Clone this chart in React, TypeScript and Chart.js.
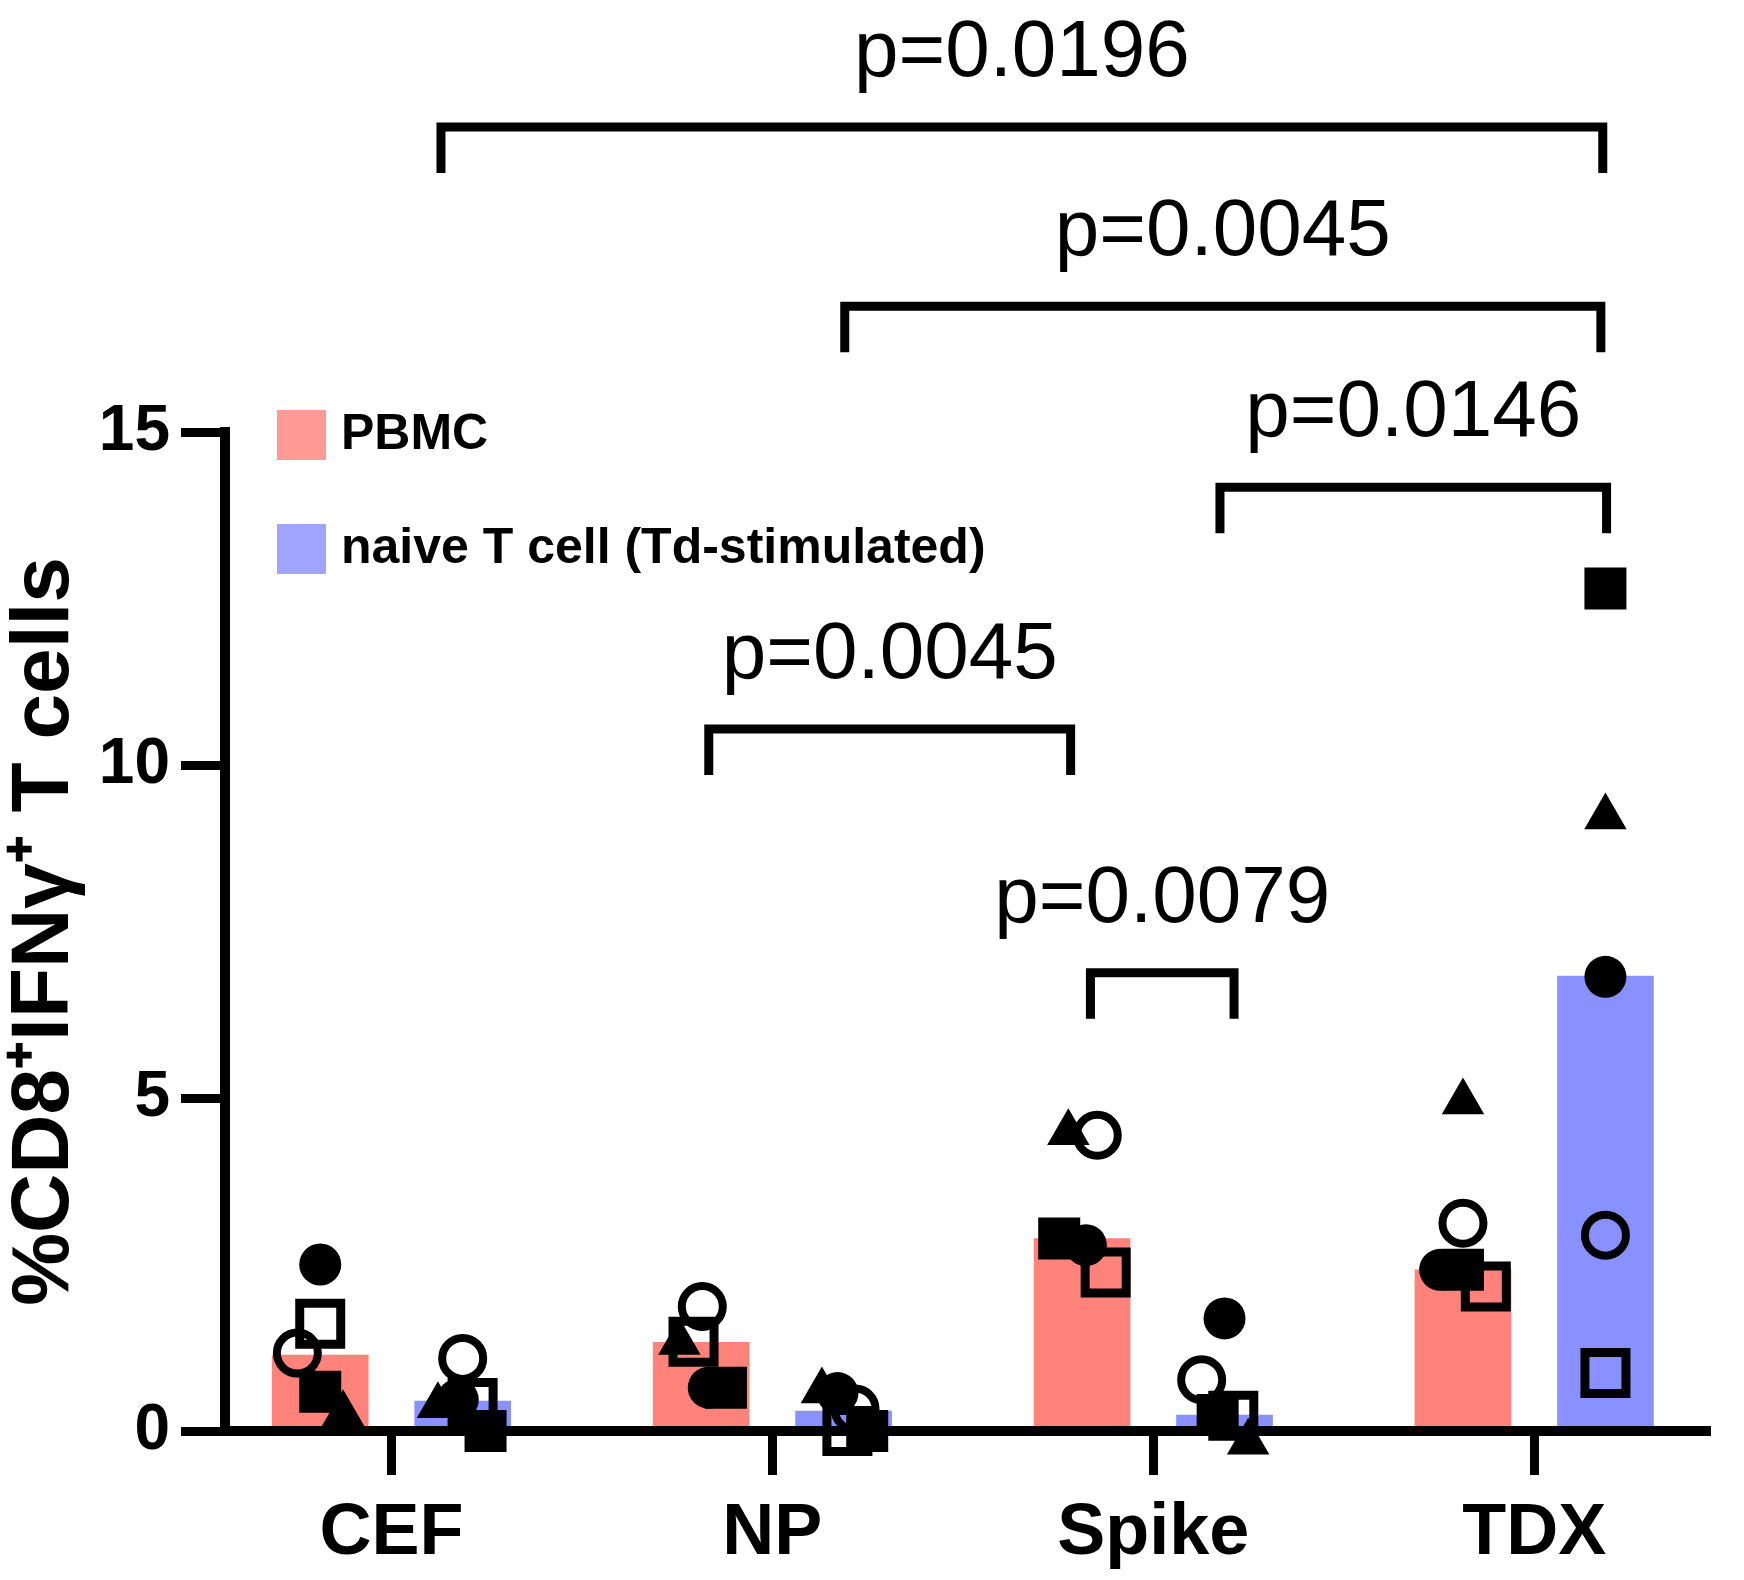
import { useEffect, useRef } from 'react';
import { Chart, registerables } from 'chart.js';

Chart.register(...registerables);

// categories and groups
const categories = ['CEF', 'NP', 'Spike', 'TDX'];
const groupNames = ['PBMC', 'naive T cell (Td-stimulated)'];

// bar heights (median per group)
const pbmcMedian = [1.14, 1.33, 2.89, 2.42];
const naiveMedian = [0.45, 0.3, 0.24, 6.83];

// individual donors, one array per group (CEF, NP, Spike, TDX)
const filledCirclePbmc = [2.5, 0.65, 2.79, 2.42];
const filledCircleNaive = [0.47, 0.57, 1.69, 6.82];
const openCirclePbmc = [1.17, 1.87, 4.44, 3.12];
const openCircleNaive = [1.09, 0.33, 0.77, 2.94];
const filledSquarePbmc = [0.59, 0.65, 2.89, 2.42];
const filledSquareNaive = [0.0, 0.0, 0.24, 12.65];
const openSquarePbmc = [1.61, 1.34, 2.38, 2.17];
const openSquareNaive = [0.42, 0.0, 0.23, 0.87];
const trianglePbmc = [0.26, 1.33, 4.48, 4.94];
const triangleNaive = [0.38, 0.6, -0.17, 9.22];

// horizontal scatter of the symbols, in category units
const filledCircleJitter = [[0, 0.02, 0.01, -0.06], [-0.013, -0.016, 0, 0]];
const openCircleJitter = [[-0.06, 0.003, 0.04, 0], [0, 0.03, -0.06, 0]];
const filledSquareJitter = [[0, 0.065, -0.06, 0], [0.06, 0.062, -0.018, 0]];
const openSquareJitter = [[0, -0.02, 0.062, 0.06], [0.026, 0.01, 0.023, 0]];
const triangleJitter = [[0.06, -0.057, -0.036, 0], [-0.065, -0.057, 0.062, 0]];

// significance brackets: ends on the x scale, level on the y scale
const brackets = [
  { label: 'p=0.0196', from: 0.13, to: 3.18, level: 19.58 },
  { label: 'p=0.0045', from: 1.19, to: 3.175, level: 16.89 },
  { label: 'p=0.0146', from: 2.175, to: 3.19, level: 14.17 },
  { label: 'p=0.0045', from: 0.833, to: 1.783, level: 10.54 },
  { label: 'p=0.0079', from: 1.835, to: 2.212, level: 6.88 },
];

const FONT = '"Liberation Sans", Arial, Helvetica, sans-serif';
const SERIES_OFFSET = 0.187;
const PBMC_COLOR = '#FF827B';
const NAIVE_COLOR = '#8891FF';
const PBMC_SWATCH = '#FF9A95';
const NAIVE_SWATCH = '#A0A4FF';

const donors = [
  { pbmc: filledCirclePbmc, naive: filledCircleNaive, jitter: filledCircleJitter, style: 'circle', radius: 21, fill: '#000', border: 0 },
  { pbmc: openCirclePbmc, naive: openCircleNaive, jitter: openCircleJitter, style: 'circle', radius: 20.5, fill: 'rgba(0,0,0,0)', border: 8 },
  { pbmc: filledSquarePbmc, naive: filledSquareNaive, jitter: filledSquareJitter, style: 'rect', radius: 29.7, fill: '#000', border: 0 },
  { pbmc: openSquarePbmc, naive: openSquareNaive, jitter: openSquareJitter, style: 'rect', radius: 29, fill: 'rgba(0,0,0,0)', border: 9 },
  { pbmc: trianglePbmc, naive: triangleNaive, jitter: triangleJitter, style: 'triangle', radius: 24.5, fill: '#000', border: 0 },
];

const annotations = {
  id: 'annotations',
  afterDraw(chart: any) {
    const { ctx, chartArea } = chart;
    const xs = chart.scales.x;
    const ys = chart.scales.y;
    ctx.save();

    // legend in the top-left corner of the plot
    const swatches = [PBMC_SWATCH, NAIVE_SWATCH];
    groupNames.forEach((name, i) => {
      const top = chartArea.top - 22 + i * 114;
      ctx.fillStyle = swatches[i];
      ctx.fillRect(chartArea.left + 52, top, 49, 50);
      ctx.fillStyle = '#000';
      ctx.font = `bold 50px ${FONT}`;
      ctx.textAlign = 'left';
      ctx.textBaseline = 'middle';
      ctx.fillText(name, chartArea.left + 116, top + 25);
    });

    // brackets with p values
    ctx.strokeStyle = '#000';
    ctx.lineWidth = 9;
    ctx.lineJoin = 'miter';
    ctx.lineCap = 'butt';
    ctx.font = `80px ${FONT}`;
    ctx.textAlign = 'center';
    ctx.textBaseline = 'alphabetic';
    brackets.forEach((b) => {
      const x1 = xs.getPixelForValue(b.from);
      const x2 = xs.getPixelForValue(b.to);
      const yy = ys.getPixelForValue(b.level);
      ctx.beginPath();
      ctx.moveTo(x1, yy + 46);
      ctx.lineTo(x1, yy);
      ctx.lineTo(x2, yy);
      ctx.lineTo(x2, yy + 46);
      ctx.stroke();
      ctx.fillText(b.label, (x1 + x2) / 2, yy - 51);
    });
    ctx.restore();
  },
};

export default function App() {
  const ref = useRef<HTMLCanvasElement>(null);

  useEffect(() => {
    document.body.style.margin = '0';
    if (!ref.current) return;

    const barData = (values: number[], side: number) =>
      values.map((v, i) => ({ x: i + side * SERIES_OFFSET, y: v }));

    const pointData = (d: any) => [
      ...d.pbmc.map((v: number, i: number) => ({ x: i - SERIES_OFFSET + d.jitter[0][i], y: v })),
      ...d.naive.map((v: number, i: number) => ({ x: i + SERIES_OFFSET + d.jitter[1][i], y: v })),
    ];

    const axisGrid = {
      display: true,
      offset: false,
      drawOnChartArea: false,
      drawTicks: true,
      tickLength: 44,
      tickWidth: 9,
      tickColor: '#000',
      color: '#000',
      lineWidth: 9,
    };
    const axisBorder = { display: true, width: 10, color: '#000' };

    const chart = new Chart(ref.current, {
      type: 'bar',
      data: {
        datasets: [
          ...donors.map((d) => ({
            type: 'scatter' as const,
            data: pointData(d),
            pointStyle: d.style,
            pointRadius: d.radius,
            pointHoverRadius: d.radius,
            pointBackgroundColor: d.fill,
            pointBorderColor: '#000',
            pointBorderWidth: d.border,
            order: 0,
            clip: false as any,
          })),
          {
            type: 'bar' as const,
            label: groupNames[0],
            data: barData(pbmcMedian, -1),
            backgroundColor: PBMC_COLOR,
            borderWidth: 0,
            barThickness: 96,
            grouped: false,
            order: 2,
            clip: { left: 50, top: 50, right: 50, bottom: -5 } as any,
          },
          {
            type: 'bar' as const,
            label: groupNames[1],
            data: barData(naiveMedian, 1),
            backgroundColor: NAIVE_COLOR,
            borderWidth: 0,
            barThickness: 96,
            grouped: false,
            order: 2,
            clip: { left: 50, top: 50, right: 50, bottom: -5 } as any,
          },
        ] as any,
      },
      options: {
        animation: false,
        responsive: false,
        events: [],
        layout: { padding: { top: 432, right: 20, left: 0, bottom: 0 } },
        plugins: {
          legend: { display: false },
          tooltip: { enabled: false },
        },
        scales: {
          x: {
            type: 'linear',
            offset: false,
            min: -0.437,
            max: 3.451,
            afterBuildTicks: (axis: any) => {
              axis.ticks = categories.map((_, i) => ({ value: i }));
            },
            afterFit: (axis: any) => {
              axis.height = 149;
            },
            ticks: {
              autoSkip: false,
              maxRotation: 0,
              padding: 16,
              color: '#000',
              font: { family: FONT, size: 72, weight: 'bold' },
              callback: (v: any) => categories[v] ?? '',
            },
            grid: axisGrid,
            border: axisBorder,
          },
          y: {
            min: 0,
            max: 15,
            afterFit: (axis: any) => {
              axis.width = 225;
            },
            ticks: {
              stepSize: 5,
              padding: 11,
              color: '#000',
              font: { family: FONT, size: 64, weight: 'bold' },
            },
            grid: axisGrid,
            border: axisBorder,
            title: {
              display: true,
              text: '%CD8⁺IFNγ⁺ T cells',
              color: '#000',
              padding: { top: 0, bottom: 0 },
              font: { family: FONT, size: 82, weight: 'bold', lineHeight: 1.1 },
            },
          },
        },
      } as any,
      plugins: [annotations],
    });

    return () => chart.destroy();
  }, []);

  return (
    <div style={{ width: 1744, height: 1580, overflow: 'hidden' }}>
      <canvas ref={ref} width={1744} height={1580} style={{ display: 'block' }} />
    </div>
  );
}
